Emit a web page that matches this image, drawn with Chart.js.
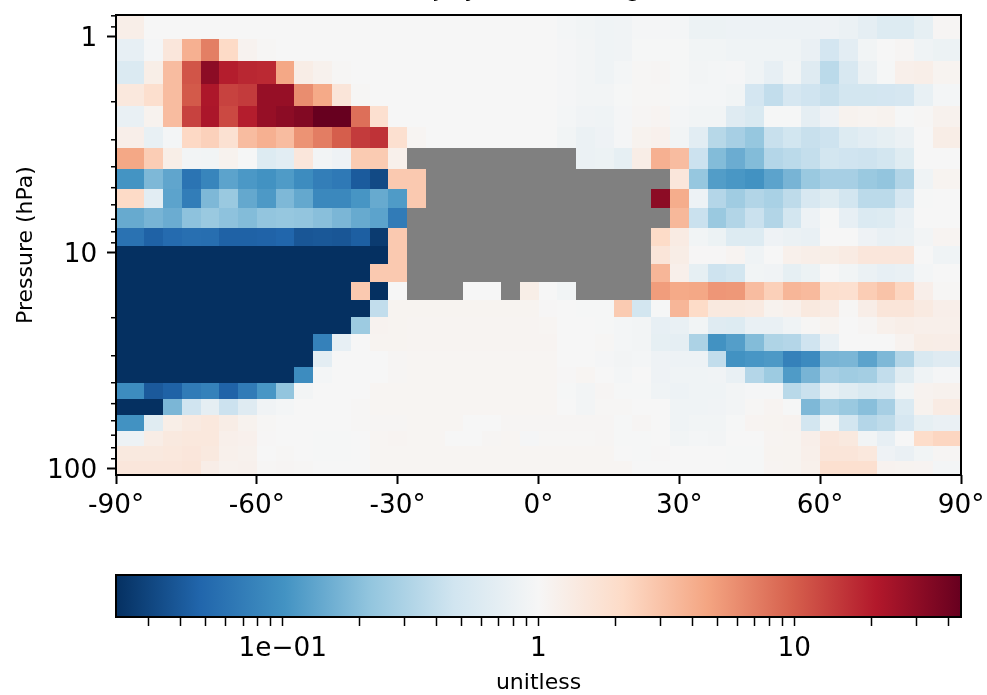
<!DOCTYPE html>
<html>
<head>
<meta charset="utf-8">
<title>Zonal mean ratio</title>
<script src="https://cdn.jsdelivr.net/npm/chart.js@4"></script>
<style>
  html, body { margin: 0; padding: 0; background: #fff; overflow: hidden; }
  canvas { position: absolute; left: 0; }
  #main { top: 0; }
  #cbar { top: 560px; }
</style>
</head>
<body>
<canvas id="main" width="987" height="530"></canvas>
<canvas id="cbar" width="987" height="135"></canvas>
<script>
const _ = null; // no data, drawn grey

// cell edges: polar cells are 6 degrees wide, the rest 4
const latEdges = [-90, -84, -80, -76, -72, -68, -64, -60, -56, -52, -48, -44, -40, -36, -32, -28, -24, -20, -16, -12, -8, -4, 0, 4, 8, 12, 16, 20, 24, 28, 32, 36, 40, 44, 48, 52, 56, 60, 64, 68, 72, 76, 80, 84, 90];
const pressureEdges = [0.793, 1.025, 1.296, 1.65, 2.094, 2.618, 3.276, 4.084, 5.07, 6.21, 7.68, 9.31, 11.28, 13.66, 16.56, 19.85, 23.8, 28.5, 33.8, 40.1, 47.6, 56.4, 66.9, 78.5, 92.1, 107];

// ratio per pressure level, top of the plot first
const ratioRows = [
  [1.25,1,1,1,1,1,1,1,1,1,1,1,1,1,1, 1,1,1,1,1,1,1,1, .95,.9,.87,.88,.97,.97,.95, .82,.82,.84,.84,.84,.84,.84,.85,.8,.71,.6,.6,.72,1.05],
  [.73,.96,1.55,3.9,7,2.15,1.12,1.03,1,1,1,1,1,1,1, 1,1,1,1,1,1,1,1, .97,.92,.87,.88,.98,.98,.98, .9,.9,.86,.86,.86,.86,.78,.5,.68,.9,1,1.05,.87,.82],
  [.58,1.27,3.3,11,31,20,18,17.5,4.4,1.3,1.15,1.03,1,1,1, 1,1,1,1,1,1,1,1, .97,.92,.87,.95,1.04,1.05,.98, .93,.94,.97,.86,.73,.9,.62,.36,.54,.8,.98,1.22,1.25,1.1],
  [1.5,1.9,3.3,10.5,22,13.5,14.5,28,28,6,4.3,1.6,1.03,1,1, 1,1,1,1,1,1,1,1, .97,.92,.92,.99,1.03,1.04,.98, .94,.94,.9,.5,.39,.52,.46,.42,.49,.49,.5,.52,.75,.95],
  [.76,1.13,3.3,13.5,22.5,12.5,20,28,31,34,45,45,8.3,1.85,1, 1,1,1,1,1,1,1,1, .95,.88,.87,.97,1.05,1.08,.95, .9,.9,.62,.55,.98,.98,.7,.85,1.13,1.1,1.13,.98,1.03,1.15],
  [1.24,.75,.95,2.2,2.45,1.8,3.3,3.9,3.3,5.6,7.1,10,14.5,16,1.85, 1.07,1,1,1,1,1,1,1, .9,.8,.85,.96,1.13,1.18,.9, .66,.34,.28,.23,.42,.48,.42,.45,.6,.66,.72,.8,1,1.3],
  [4.4,2.6,1.27,.93,.9,1.13,.98,.6,.66,1.55,.93,.85,2.7,2.7,1.2, _,_,_,_,_,_,_,_,_, .8,.82,.72,1.3,3.9,3.3, .44,.19,.15,.19,.33,.36,.4,.49,.46,.45,.49,.63,1,1],
  [.103,.18,.135,.06,.08,.13,.11,.1,.115,.09,.072,.066,.041,.032,2.75, 2.75,_,_,_,_,_,_,_,_,_,_,_,_,_, 1.55, .23,.118,.108,.1,.13,.17,.24,.28,.28,.24,.22,.32,.87,1.1],
  [2.15,.66,.13,.07,.18,.24,.14,.112,.18,.14,.085,.085,.106,.145,.115, 2.75,_,_,_,_,_,_,_,_,_,_,_,_, 31,4.1, .84,.33,.26,.32,.29,.37,.54,.63,.49,.36,.36,.52,.98,1],
  [.145,.17,.15,.21,.24,.21,.19,.22,.23,.22,.2,.175,.145,.13,.068, _,_,_,_,_,_,_,_,_,_,_,_,_,_, 3.5, .43,.24,.32,.43,.32,.49,.84,.98,.74,.58,.6,.77,1,1],
  [.058,.045,.052,.056,.055,.045,.045,.046,.048,.038,.039,.038,.043,.026,2.75, _,_,_,_,_,_,_,_,_,_,_,_,_, 2.1,1.35, .9,.82,.6,.6,.85,.8,.76,1,1,.85,.76,.8,.92,1.08],
  [.02,.02,.02,.02,.02,.02,.02,.02,.02,.02,.02,.02,.02,.02,2.75, _,_,_,_,_,_,_,_,_,_,_,_,_, 1.6,1.3, 1.02,1.02,1.08,.87,1,1.2,1.25,1.27,1.35,1.55,1.55,1.55,1,.86],
  [.02,.02,.02,.02,.02,.02,.02,.02,.02,.02,.02,.02,.02,2.75,2.75, _,_,_,_,_,_,_,_,_,_,_,_,_, 3.6,1.22, .72,.45,.49,.9,.88,.72,.82,1,.9,.8,.73,.76,.95,1],
  [.02,.02,.02,.02,.02,.02,.02,.02,.02,.02,.02,.02,2.75,.02,1, _,_,_,1,1,_,1.27,1,.9,_,_,_,_,5,4.3, 4.4,5.4,5.3,3.3,2.5,3.6,3.4,1.9,1.85,2.6,3,2.3,1.24,1.03],
  [.02,.02,.02,.02,.02,.02,.02,.02,.02,.02,.02,.02,.02,.39,1.1, 1.1,1.1,1.1,1.1,1.1,1.1,1.1,1.02, 1,.98,.98,2.7,.49,.98,3.6, 2.1,1.45,1.45,1.4,1.13,1.2,1.45,1.35,1.03,1.28,1.6,1.6,1.4,1.24],
  [.02,.02,.02,.02,.02,.02,.02,.02,.02,.02,.02,.02,.25,1.12,1.1, 1.09,1.09,1.09,1.09,1.09,1.09,1.09,1.06, 1,1,.98,.94,.92,.73,.76, .9,.62,.6,.76,.76,.87,1.03,1.1,1,1.05,1.2,1.25,1.22,1.22],
  [.02,.02,.02,.02,.02,.02,.02,.02,.02,.02,.075,.74,1,1.1,1.1, 1.08,1.08,1.08,1.08,1.08,1.08,1.08,1.08, 1,1,1.03,.95,.93,.72,.7, .3,.1,.12,.19,.31,.33,.46,.77,1,1,1,1.12,1.3,1.28],
  [.02,.02,.02,.02,.02,.02,.02,.02,.02,.02,.68,1,1,1,1.05, 1.06,1.06,1.06,1.06,1.06,1.06,1.06,1.06, 1,1,.97,.93,.95,.85,.83, .83,.39,.1,.107,.112,.075,.088,.17,.175,.13,.18,.32,.55,.62],
  [.02,.02,.02,.02,.02,.02,.02,.02,.02,.09,.95,1,1,1,1.05, 1.07,1.07,1.07,1.07,1.07,1.07,1.07,1.07, 1.02,1.06,1,.95,1,.85,.86, .86,.88,.77,.33,.25,.115,.17,.28,.26,.27,.39,.64,.87,.97],
  [.09,.04,.045,.068,.075,.046,.068,.107,.22,.92,1,1,1,1.06,1.06, 1.07,1.07,1.07,1.07,1.07,1.07,1.07,1.07, .98,.93,1.05,.98,.98,.87,.84, .86,.86,.92,.96,.97,.35,.43,.75,.64,.55,.58,.9,1.12,1.15],
  [.02,.02,.175,.46,.7,.44,.62,.88,.95,1,1,1,1.03,1.06,1.07, 1.07,1.07,1.07,1.07,1.07,1.07,1.07,1.07, 1,.93,1.04,1.03,1,1,.87, .87,.88,.92,1.03,1.08,.98,.18,.27,.24,.2,.28,.58,1.13,1.35],
  [.1,.64,1.27,1.4,1.5,1.3,1.13,1.03,1,1,1,1,1.03,1.05,1.05, 1.07,1.07,1.07,1,1,1.05,1.05,1.05, 1.05,1.05,1.05,.99,1.05,1,.87, .9,.9,.98,1.08,1.1,1.12,.49,.9,.49,.33,.37,.52,.72,.78],
  [.84,1.3,1.45,1.5,1.5,1.22,1.18,1.02,1,1,.99,.99,1,1.07,1.08, 1.07,1.07,1,1,1.05,1.07,.97,1.03, 1.03,1.03,1.05,.99,.99,1,.9, .94,.92,1,1,1.08,1.1,1.24,1.55,1.45,.9,.74,1,2.05,2.3],
  [1.45,1.45,1.5,1.55,1.45,1.2,1.15,1,1.03,1,.99,.99,1,1.07,1.07, 1.06,1.06,1.06,1.06,1.06,1.06,1.06,1.06, 1.06,1.06,1.07,1,.98,1.02,1, 1,1,.99,.99,1.1,1.1,1.22,1.6,1.6,1.5,.85,.78,.9,1.05],
  [1.55,1.55,1.55,1.6,1.28,1.15,1.17,1.03,1.05,1.04,1,1,1,1.07,1.06, 1.06,1.06,1.06,1.06,1.06,1.06,1.06,1.06, 1.06,1.06,1.06,1.06,1,1,1, 1,1,.99,.99,1.08,1.1,1.2,1.85,1.85,1.85,1.12,1.1,1.08,.95]
];

const latTicks = [-90, -60, -30, 0, 30, 60, 90];
const pressureTicks = [1, 10, 100];
const pressureMinorTicks = [0.8, 0.9, 2, 3, 4, 5, 6, 7, 8, 9, 20, 30, 40, 50, 60, 70, 80, 90];
const cbarTicks = [0.03, 0.04, 0.05, 0.06, 0.07, 0.08, 0.09, 0.1, 0.2, 0.3, 0.4, 0.5, 0.6, 0.7, 0.8, 0.9, 1, 2, 3, 4, 5, 6, 7, 8, 9, 10, 20, 30, 40];
const cbarLabels = { 0.1: '1e\u221201', 1: '1', 10: '10' };

const vmin = 0.0223;
const vmax = 44.9;
const missingColor = '#808080';
// RdBu_r
const rdbu = ['#053061', '#2166ac', '#4393c3', '#92c5de', '#d1e5f0', '#f6f6f6', '#fddbc7', '#f4a582', '#d6604d', '#b2182b', '#67001f'];

// only the tails of the title's letters are left in the reference, the words are a guess
const titleText = 'N2O, Dev, July zonal average';
const fontFamily = "'DejaVu Sans', sans-serif";

function hexToRgb(hex) {
  return [1, 3, 5].map(i => parseInt(hex.slice(i, i + 2), 16));
}

function ratioColor(v) {
  if (v === null) return missingColor;
  let t = (Math.log10(v) - Math.log10(vmin)) / (Math.log10(vmax) - Math.log10(vmin));
  t = Math.min(1, Math.max(0, t)) * (rdbu.length - 1);
  const i = Math.min(rdbu.length - 2, Math.floor(t));
  const a = hexToRgb(rdbu[i]);
  const b = hexToRgb(rdbu[i + 1]);
  const c = a.map((ch, k) => Math.round(ch + (b[k] - ch) * (t - i)));
  return `rgb(${c[0]},${c[1]},${c[2]})`;
}

const cells = [];
ratioRows.forEach((row, r) => {
  row.forEach((v, c) => {
    cells.push({
      x: (latEdges[c] + latEdges[c + 1]) / 2,
      y: Math.sqrt(pressureEdges[r] * pressureEdges[r + 1]),
      x0: latEdges[c], x1: latEdges[c + 1],
      y0: pressureEdges[r], y1: pressureEdges[r + 1],
      v: v
    });
  });
});

// cells have uneven sizes in both directions, so each one is filled from its edges
const heatCells = {
  id: 'heatCells',
  beforeDatasetsDraw(chart) {
    const { x, y } = chart.scales;
    const ctx = chart.ctx;
    chart.data.datasets[0].data.forEach(c => {
      const l = Math.round(x.getPixelForValue(c.x0));
      const r = Math.round(x.getPixelForValue(c.x1));
      const t = Math.round(y.getPixelForValue(c.y0));
      const b = Math.round(y.getPixelForValue(c.y1));
      ctx.fillStyle = ratioColor(c.v);
      ctx.fillRect(l, t, r - l, b - t);
    });
  }
};

const minorTicks = {
  id: 'minorTicks',
  afterDraw(chart) {
    const y = chart.scales.y;
    const ctx = chart.ctx;
    const left = chart.chartArea.left;
    ctx.save();
    ctx.strokeStyle = '#000';
    ctx.lineWidth = 1.5;
    pressureMinorTicks.forEach(p => {
      const py = y.getPixelForValue(p);
      ctx.beginPath();
      ctx.moveTo(left - 5, py);
      ctx.lineTo(left, py);
      ctx.stroke();
    });
    ctx.restore();
  }
};

const frame = {
  id: 'frame',
  afterDraw(chart) {
    const a = chart.chartArea;
    const ctx = chart.ctx;
    ctx.save();
    ctx.strokeStyle = '#000';
    ctx.lineWidth = 2;
    ctx.strokeRect(a.left, a.top, a.right - a.left, a.bottom - a.top);
    ctx.restore();
  }
};

// stop the tick labels' overhang from pushing the plot area around
function noOverhang(scale) {
  scale.paddingTop = 0;
  scale.paddingBottom = 0;
  scale.paddingLeft = 0;
  scale.paddingRight = 0;
}

new Chart(document.getElementById('main'), {
  type: 'scatter',
  data: { datasets: [{ data: cells, pointRadius: 0, pointHoverRadius: 0 }] },
  plugins: [heatCells, minorTicks, frame],
  options: {
    responsive: false,
    animation: false,
    events: [],
    layout: { padding: { left: 0, right: 26, top: 0, bottom: 0 } },
    plugins: {
      legend: { display: false },
      tooltip: { enabled: false },
      title: {
        display: true,
        text: titleText,
        color: '#000',
        font: { family: fontFamily, size: 24, weight: 'normal' },
        padding: { top: -25, bottom: 11.2 }
      }
    },
    scales: {
      x: {
        type: 'linear',
        min: -90,
        max: 90,
        afterBuildTicks: scale => { scale.ticks = latTicks.map(value => ({ value })); },
        afterFit: scale => { scale.height = 55; noOverhang(scale); },
        grid: { drawOnChartArea: false, drawTicks: true, tickLength: 9, tickWidth: 2, tickColor: '#000' },
        border: { display: false },
        ticks: {
          autoSkip: false,
          maxRotation: 0,
          padding: 6.5,
          color: '#000',
          font: { family: fontFamily, size: 26.3 },
          callback: value => value + '°'
        }
      },
      y: {
        type: 'logarithmic',
        reverse: true,
        min: 0.793,
        max: 107,
        afterBuildTicks: scale => { scale.ticks = pressureTicks.map(value => ({ value })); },
        afterFit: scale => { scale.width = 116; noOverhang(scale); },
        grid: { drawOnChartArea: false, drawTicks: true, tickLength: 9, tickWidth: 2, tickColor: '#000' },
        border: { display: false },
        title: {
          display: true,
          text: 'Pressure (hPa)',
          color: '#000',
          font: { family: fontFamily, size: 22 },
          padding: { top: 13, bottom: 0 }
        },
        ticks: {
          autoSkip: false,
          padding: 9.7,
          labelOffset: 2.3,
          color: '#000',
          font: { family: fontFamily, size: 26.3 },
          callback: value => String(value)
        }
      }
    }
  }
});

new Chart(document.getElementById('cbar'), {
  type: 'bar',
  data: {
    labels: ['ratio'],
    datasets: [{
      data: [[vmin, vmax]],
      barPercentage: 1,
      categoryPercentage: 1,
      backgroundColor: ctx => {
        const a = ctx.chart.chartArea;
        if (!a) return rdbu[0];
        const g = ctx.chart.ctx.createLinearGradient(a.left, 0, a.right, 0);
        rdbu.forEach((color, i) => g.addColorStop(i / (rdbu.length - 1), color));
        return g;
      }
    }]
  },
  plugins: [frame],
  options: {
    indexAxis: 'y',
    responsive: false,
    animation: false,
    events: [],
    layout: { padding: { left: 116, right: 26, top: 15, bottom: 0 } },
    plugins: { legend: { display: false }, tooltip: { enabled: false } },
    scales: {
      x: {
        type: 'logarithmic',
        min: vmin,
        max: vmax,
        afterBuildTicks: scale => { scale.ticks = cbarTicks.map(value => ({ value })); },
        afterFit: scale => { scale.height = 78; noOverhang(scale); },
        grid: { drawOnChartArea: false, drawTicks: true, tickLength: 9, tickWidth: 1.5, tickColor: '#000' },
        border: { display: false },
        title: {
          display: true,
          text: 'unitless',
          color: '#000',
          font: { family: fontFamily, size: 22 },
          padding: { top: 0, bottom: -1.5 }
        },
        ticks: {
          autoSkip: false,
          maxRotation: 0,
          padding: 7,
          color: '#000',
          font: { family: fontFamily, size: 26.3 },
          callback: value => cbarLabels[value] || ''
        }
      },
      y: { display: false }
    }
  }
});
</script>
</body>
</html>
